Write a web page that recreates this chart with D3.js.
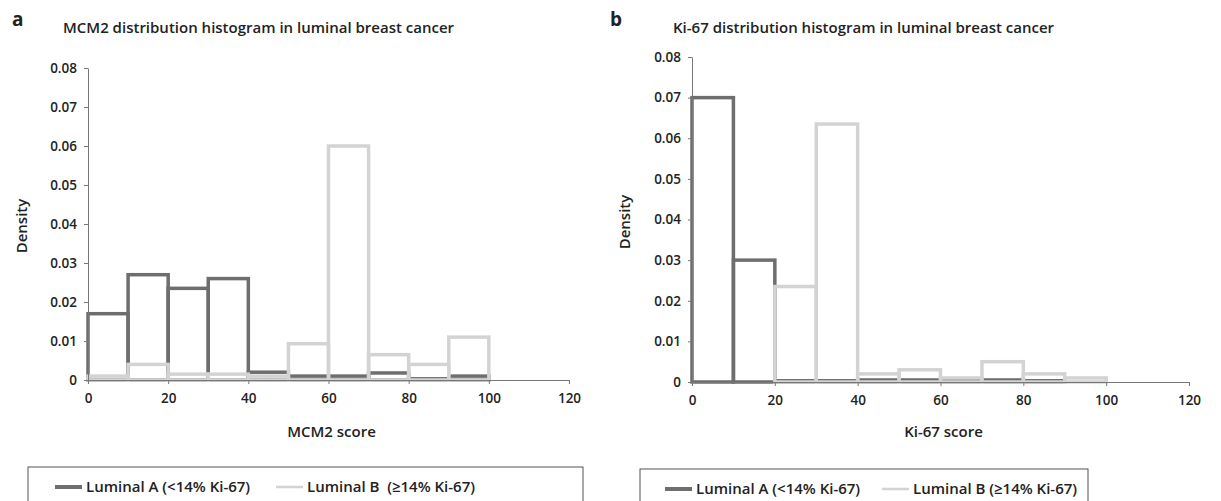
<!DOCTYPE html>
<html>
<head>
<meta charset="utf-8">
<script src="https://cdn.jsdelivr.net/npm/d3@7"></script>
<style>
  body { margin: 0; background: #fff; }
  svg text { font-family: "Open Sans", sans-serif; fill: #222; white-space: pre; }
</style>
</head>
<body>
<div id="chart"></div>
<script>
// bins are 10 units wide, starting at these values
let binStarts = [0, 10, 20, 30, 40, 50, 60, 70, 80, 90];
let binWidth = 10;

// MCM2 panel densities
let mcmLumA = [0.017, 0.027, 0.0235, 0.026, 0.002, 0.001, 0.001, 0.0018, 0.0003, 0.001];
let mcmLumB = [0.001, 0.004, 0.0015, 0.0015, 0.001, 0.0093, 0.060, 0.0065, 0.004, 0.011];

// Ki-67 panel densities
let kiLumA = [0.070, 0.030, 0.0003, 0.0003, 0.0005, 0.0005, 0.0003, 0.0005, 0.0003, 0];
let kiLumB = [0, 0, 0.0235, 0.0635, 0.002, 0.003, 0.001, 0.005, 0.002, 0.001];

let xTicks = [0, 20, 40, 60, 80, 100, 120];
let yTicks = [0, 0.01, 0.02, 0.03, 0.04, 0.05, 0.06, 0.07, 0.08];
let seriesNames = ["Luminal A (<14% Ki-67)", "Luminal B  (\u226514% Ki-67)"];
let seriesNamesB = ["Luminal A (<14% Ki-67)", "Luminal B (\u226514% Ki-67)"];

let colorA = "#6e6e6e", colorB = "#d3d3d3";

let svg = d3.select("#chart").append("svg")
  .attr("width", 1221)
  .attr("height", 501);

function drawPanel(opt) {
  let g = svg.append("g");

  let xScale = d3.scaleLinear().domain([0, 120]).range([opt.left, opt.right]);
  let yScale = d3.scaleLinear().domain([0, 0.08]).range([opt.bottom, opt.top]);

  // series rectangles, one outline per bin (A first, B drawn over it)
  [[opt.a, colorA], [opt.b, colorB]].forEach(function(s) {
    g.append("g").selectAll("rect").data(s[0]).enter().append("rect")
      .attr("x", function(d, i) { return xScale(binStarts[i]); })
      .attr("y", function(d) { return yScale(d); })
      .attr("width", xScale(binWidth) - xScale(0))
      .attr("height", function(d) { return yScale(0) - yScale(d); })
      .style("fill", "none")
      .style("stroke", s[1])
      .style("stroke-width", 3.5);
  });

  // axes
  let xAx = g.append("g").attr("transform", `translate(0,${opt.bottom})`)
    .call(d3.axisBottom(xScale).tickValues(xTicks).tickSize(4).tickSizeOuter(0).tickPadding(9));
  let yAx = g.append("g").attr("transform", `translate(${opt.left},0)`)
    .call(d3.axisLeft(yScale).tickValues(yTicks).tickSize(4).tickSizeOuter(0).tickPadding(7)
      .tickFormat(function(d) { return d === 0 ? "0" : d3.format(".2f")(d); }));
  [xAx, yAx].forEach(function(ax) {
    ax.selectAll("path, line").style("stroke", "#777");
    ax.selectAll("text").style("font-size", "13.5px").style("font-weight", 600).style("fill", "#222");
  });

  // labels
  g.append("text").attr("x", opt.letterX).attr("y", 26)
    .style("font-size", "19px").style("font-weight", 700).text(opt.letter);
  g.append("text").attr("x", opt.titleX).attr("y", 33)
    .style("font-size", "15px").style("font-weight", 600).text(opt.title);
  g.append("text").attr("x", (xScale(0) + xScale(120)) / 2 + 3).attr("y", 437)
    .attr("text-anchor", "middle")
    .style("font-size", "15px").style("font-weight", 600).text(opt.xLabel);
  g.append("text")
    .attr("transform", `translate(${opt.densX},${opt.densY}) rotate(-90)`)
    .attr("text-anchor", "middle")
    .style("font-size", "15px").style("font-weight", 600).text("Density");

  // legend box
  let lg = g.append("g");
  lg.append("rect").attr("x", opt.legX).attr("y", opt.legY)
    .attr("width", opt.legW).attr("height", 40)
    .style("fill", "none").style("stroke", "#555").style("stroke-width", 1);
  [[colorA, 4, opt.legA, opt.names[0]], [colorB, 2.5, opt.legB, opt.names[1]]].forEach(function(it) {
    lg.append("line").attr("x1", it[2]).attr("x2", it[2] + 27)
      .attr("y1", opt.legY + 20).attr("y2", opt.legY + 20)
      .style("stroke", it[0]).style("stroke-width", it[1]);
    lg.append("text").attr("x", it[2] + 31).attr("y", opt.legY + 25)
      .style("font-size", "15px").style("font-weight", 600).text(it[3]);
  });
}

drawPanel({
  left: 88, right: 569, top: 68, bottom: 380,
  a: mcmLumA, b: mcmLumB,
  letter: "a", letterX: 12, title: "MCM2 distribution histogram in luminal breast cancer", titleX: 63,
  xLabel: "MCM2 score", densX: 27, densY: 226,
  legX: 28, legY: 467, legW: 555, legA: 55, legB: 276, names: seriesNames
});

drawPanel({
  left: 692, right: 1189, top: 57, bottom: 382,
  a: kiLumA, b: kiLumB,
  letter: "b", letterX: 610, title: "Ki-67 distribution histogram in luminal breast cancer", titleX: 673,
  xLabel: "Ki-67 score", densX: 630, densY: 222,
  legX: 640, legY: 469, legW: 448, legA: 665, legB: 882, names: seriesNamesB
});
</script>
</body>
</html>
